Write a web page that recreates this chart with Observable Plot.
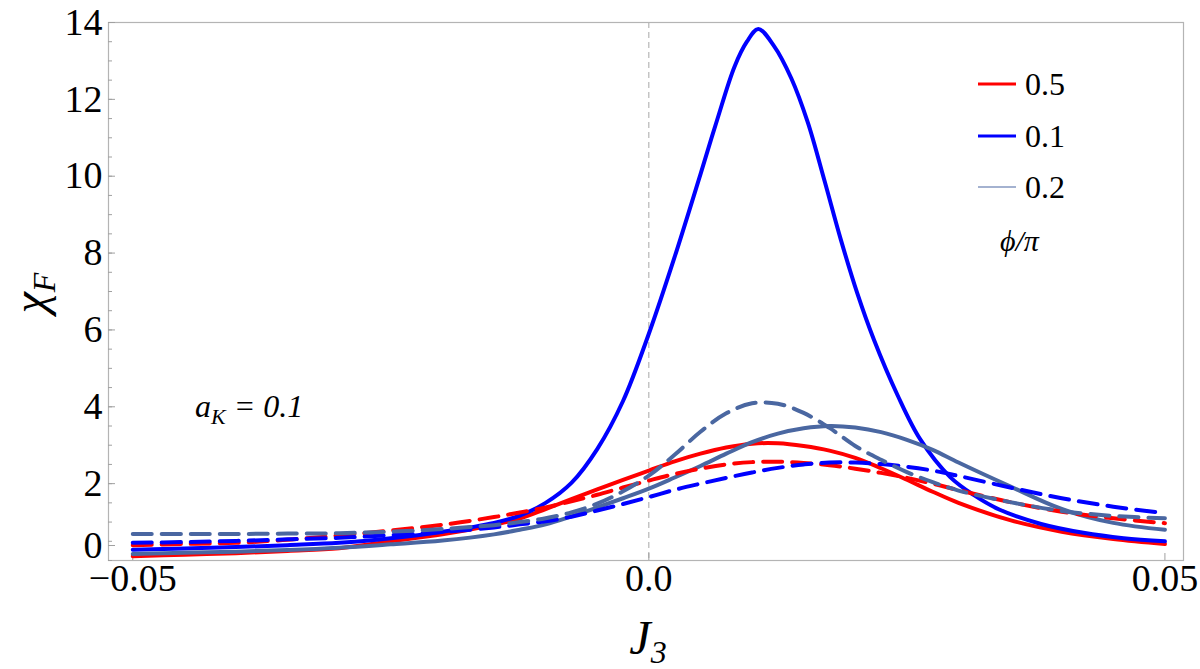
<!DOCTYPE html>
<html>
<head>
<meta charset="utf-8">
<script src="https://cdn.jsdelivr.net/npm/d3@7"></script>
<script src="https://cdn.jsdelivr.net/npm/@observablehq/plot@0.6"></script>
<style>
  html, body { margin: 0; padding: 0; background: #fff; }
  #chart { width: 1200px; height: 669px; }
</style>
</head>
<body>
<div id="chart"></div>
<script>
// Fidelity susceptibility χ_F versus J_3 for a_K = 0.1, three values of φ/π.
// Shared J3 grid for the broad curves.
const j3Grid = [-0.05, -0.045, -0.04, -0.035, -0.03, -0.025, -0.02, -0.015, -0.0125, -0.01,
                -0.0075, -0.005, -0.0025, 0, 0.0025, 0.005, 0.0075, 0.01, 0.0125, 0.015,
                0.0175, 0.02, 0.0225, 0.025, 0.0275, 0.03, 0.035, 0.04, 0.045, 0.05];

// φ/π = 0.5 (red)
const chiRedSolid  = [0.11, 0.15, 0.19, 0.25, 0.32, 0.50, 0.68, 0.93, 1.09, 1.34,
                      1.60, 1.85, 2.10, 2.34, 2.58, 2.78, 2.94, 3.04, 3.05, 2.98,
                      2.86, 2.67, 2.40, 2.10, 1.79, 1.50, 1.05, 0.75, 0.56, 0.43];
const chiRedDashed = [0.40, 0.43, 0.46, 0.54, 0.65, 0.78, 0.93, 1.13, 1.25, 1.38,
                      1.54, 1.71, 1.90, 2.08, 2.25, 2.39, 2.50, 2.56, 2.57, 2.54,
                      2.48, 2.39, 2.28, 2.15, 2.00, 1.83, 1.52, 1.27, 1.10, 0.97];

// φ/π = 0.2 (steel blue)
const chiSteelSolid  = [0.17, 0.20, 0.23, 0.27, 0.33, 0.42, 0.52, 0.68, 0.80, 0.94,
                        1.15, 1.38, 1.62, 1.87, 2.16, 2.46, 2.78, 3.08, 3.30, 3.44,
                        3.50, 3.46, 3.34, 3.14, 2.88, 2.55, 1.93, 1.34, 0.98, 0.80];
const chiSteelDashed = [0.69, 0.69, 0.69, 0.70, 0.71, 0.75, 0.82, 0.92, 1.00, 1.10,
                        1.25, 1.48, 1.80, 2.21, 2.75, 3.35, 3.83, 4.09, 4.08, 3.84,
                        3.45, 2.98, 2.62, 2.30, 2.04, 1.82, 1.52, 1.29, 1.16, 1.10];

// φ/π = 0.1 (blue), dashed curve on the shared grid
const chiBlueDashed = [0.46, 0.48, 0.51, 0.55, 0.59, 0.66, 0.74, 0.86, 0.94, 1.02,
                       1.14, 1.30, 1.47, 1.65, 1.84, 2.00, 2.15, 2.29, 2.41, 2.50,
                       2.55, 2.55, 2.51, 2.44, 2.34, 2.20, 1.90, 1.62, 1.40, 1.23];

// φ/π = 0.1 solid curve: sharp peak, sampled more densely
const j3Peak = [-0.05, -0.045, -0.04, -0.035, -0.03, -0.025, -0.02, -0.015, -0.0125, -0.01,
                -0.0075, -0.005, -0.0025, 0, 0.0025, 0.005, 0.0066, 0.0083, 0.0095, 0.0106,
                0.0121, 0.0138, 0.0154, 0.017, 0.0186, 0.0202, 0.0218, 0.0241, 0.0263, 0.0292,
                0.0315, 0.034, 0.038, 0.0421, 0.046, 0.05];
const chiBlueSolid = [0.28, 0.31, 0.35, 0.40, 0.46, 0.58, 0.75, 0.98, 1.17, 1.50,
                      2.02, 2.90, 4.15, 5.90, 7.90, 10.05, 11.45, 12.85, 13.50, 13.83,
                      13.40, 12.55, 11.40, 9.90, 8.35, 6.95, 5.75, 4.30, 3.15, 2.17,
                      1.70, 1.32, 0.95, 0.72, 0.58, 0.50];

// Axis ticks
const xTicks = [-0.05, 0, 0.05];
const xTickLabels = ["\u22120.05", "0.0", "0.05"];
const yTicks = [2, 4, 6, 8, 10, 12, 14];
const yZeroTick = [0];
const yMinorTicks = d3.range(0, 14.001, 0.5);

// Legend entries
const legendLabels = ["0.5", "0.1", "0.2"];
const colors = {red: "#ff0000", blue: "#0000ff", steel: "#4a67a1"};

const zip = (xs, ys) => xs.map((x, i) => ({x, y: ys[i]}));

const series = [
  {data: zip(j3Grid, chiRedSolid),    stroke: colors.red,   dash: null},
  {data: zip(j3Peak, chiBlueSolid),   stroke: colors.blue,  dash: null},
  {data: zip(j3Grid, chiSteelSolid),  stroke: colors.steel, dash: null},
  {data: zip(j3Grid, chiRedDashed),   stroke: colors.red,   dash: "19,10"},
  {data: zip(j3Grid, chiBlueDashed),  stroke: colors.blue,  dash: "19,10"},
  {data: zip(j3Grid, chiSteelDashed), stroke: colors.steel, dash: "19,10"}
];

const serif = "'Liberation Serif', 'DejaVu Serif', serif";
const tickFont = 38;

const chart = Plot.plot({
  width: 1200,
  height: 669,
  marginLeft: 108,
  marginRight: 17,
  marginTop: 22,
  marginBottom: 109,
  x: {domain: [-0.05235, 0.0518]},
  y: {domain: [0, 14]},
  style: {fontFamily: serif, background: "#fff", color: "#000"},
  marks: [
    Plot.ruleX([0], {stroke: "#a8a8a8", strokeWidth: 1, strokeDasharray: "6,4"}),
    Plot.frame({stroke: "#b4b4b4", strokeWidth: 1.2}),
    Plot.axisY(yMinorTicks, {anchor: "left", tickSize: -4, stroke: "#a0a0a0", tickFormat: () => "", label: null}),
    Plot.axisY(yTicks, {anchor: "left", tickSize: -7, tickPadding: 13, stroke: "#a0a0a0", fill: "#000",
                        fontSize: tickFont, label: null}),
    // the zero label sits a little higher so it clears the J3 tick labels
    Plot.axisY(yZeroTick, {anchor: "left", tickSize: -7, tickPadding: 13, stroke: "#a0a0a0", fill: "#000",
                           fontSize: tickFont, label: null, dy: -15}),
    Plot.axisX(xTicks, {anchor: "bottom", tickSize: -7, tickPadding: 11, stroke: "#a0a0a0", fill: "#000",
                        fontSize: tickFont, label: null,
                        tickFormat: (d) => xTickLabels[xTicks.indexOf(d)]}),
    ...series.map(s => Plot.line(s.data, {
      x: "x", y: "y", stroke: s.stroke, strokeWidth: 4,
      strokeDasharray: s.dash, curve: "catmull-rom"
    }))
  ]
});

document.getElementById("chart").appendChild(chart);

// Text labels with subscripts and the legend, added to the same SVG
const svg = d3.select(chart);

// y-axis label χ_F
const yLab = svg.append("text")
  .attr("transform", "translate(46,293) rotate(-90)")
  .attr("text-anchor", "middle")
  .style("font-family", serif).style("font-style", "italic").style("font-size", "48px")
  .attr("fill", "#000");
yLab.append("tspan").text("χ");
yLab.append("tspan").attr("dy", 9).style("font-size", "32px").text("F");

// x-axis label J_3
const xLab = svg.append("text")
  .attr("x", 648).attr("y", 654)
  .attr("text-anchor", "middle")
  .style("font-family", serif).style("font-style", "italic").style("font-size", "48px")
  .attr("fill", "#000");
xLab.append("tspan").text("J");
xLab.append("tspan").attr("dy", 9).style("font-size", "32px").text("3");

// annotation a_K = 0.1
const ann = svg.append("text")
  .attr("x", 195).attr("y", 417)
  .attr("text-anchor", "start")
  .style("font-family", serif).style("font-style", "italic").style("font-size", "32px")
  .attr("fill", "#000");
ann.append("tspan").text("a");
ann.append("tspan").attr("dy", 7).style("font-size", "22px").text("K");
ann.append("tspan").attr("dy", -7).text(" = 0.1");

// legend
const legendColors = [colors.red, colors.blue, colors.steel];
const legendWidths = [3, 3, 1.2];
const legendY = [84, 136, 187];
legendLabels.forEach((lab, i) => {
  svg.append("line")
    .attr("x1", 978).attr("x2", 1016)
    .attr("y1", legendY[i]).attr("y2", legendY[i])
    .attr("stroke", legendColors[i]).attr("stroke-width", legendWidths[i]);
  svg.append("text")
    .attr("x", 1025).attr("y", legendY[i] + 11)
    .attr("text-anchor", "start")
    .style("font-family", serif).style("font-size", "32px")
    .attr("fill", "#000")
    .text(lab);
});
svg.append("text")
  .attr("x", 1000).attr("y", 251)
  .attr("text-anchor", "start")
  .style("font-family", serif).style("font-style", "italic").style("font-size", "30px")
  .attr("fill", "#000")
  .text("ϕ/π");
</script>
</body>
</html>
